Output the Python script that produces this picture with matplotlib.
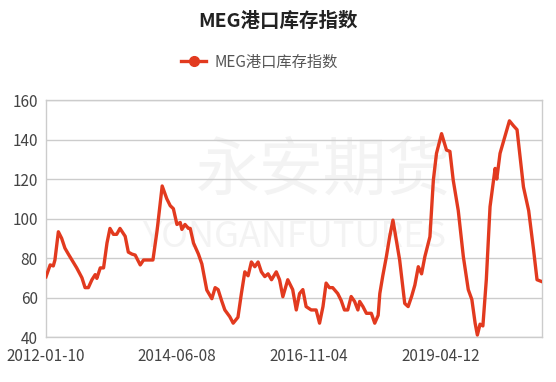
import pandas as pd
import matplotlib
matplotlib.use("Agg")
import matplotlib.pyplot as plt

plt.rcParams['font.family'] = ['Noto Sans CJK SC', 'DejaVu Sans']

# MEG port inventory index
dates = [
    "2012-01-10", "2012-02-07", "2012-02-28", "2012-03-10", "2012-04-02", "2012-04-24",
    "2012-05-16", "2012-06-08", "2012-08-03", "2012-09-07", "2012-09-28", "2012-10-20",
    "2012-11-13", "2012-12-05", "2012-12-16", "2013-01-08", "2013-01-30", "2013-02-22",
    "2013-03-14", "2013-04-06", "2013-04-28", "2013-05-20", "2013-06-24", "2013-07-15",
    "2013-08-08", "2013-08-30", "2013-10-03", "2013-10-25", "2013-11-17", "2013-12-09",
    "2013-12-27", "2014-01-24", "2014-02-27", "2014-03-30", "2014-04-22", "2014-05-13",
    "2014-06-06", "2014-06-28", "2014-07-09", "2014-07-30", "2014-08-22", "2014-09-03",
    "2014-09-25", "2014-10-28", "2014-11-20", "2014-12-23", "2015-01-26", "2015-02-17",
    "2015-03-09", "2015-04-01", "2015-04-23", "2015-05-26", "2015-06-18", "2015-07-20",
    "2015-08-12", "2015-09-04", "2015-09-26", "2015-10-18", "2015-11-10", "2015-12-02",
    "2015-12-24", "2016-01-16", "2016-02-07", "2016-03-01", "2016-04-02", "2016-04-24",
    "2016-05-16", "2016-06-18", "2016-07-21", "2016-08-14", "2016-09-05", "2016-09-27",
    "2016-10-19", "2016-11-22", "2016-12-25", "2017-01-17", "2017-02-09", "2017-03-02",
    "2017-03-24", "2017-04-15", "2017-05-19", "2017-06-11", "2017-07-03", "2017-07-25",
    "2017-08-17", "2017-09-09", "2017-10-01", "2017-10-13", "2017-11-04", "2017-11-27",
    "2017-12-07", "2017-12-30", "2018-01-22", "2018-02-14", "2018-02-25", "2018-03-17",
    "2018-04-10", "2018-05-02", "2018-05-24", "2018-06-16", "2018-07-08", "2018-08-11",
    "2018-09-03", "2018-09-26", "2018-10-18", "2018-11-10", "2018-12-02", "2018-12-24",
    "2019-01-27", "2019-02-19", "2019-03-12", "2019-04-15", "2019-05-18", "2019-06-10",
    "2019-07-02", "2019-08-05", "2019-09-08", "2019-10-11", "2019-11-04", "2019-11-26",
    "2019-12-11", "2019-12-29", "2020-01-17", "2020-02-09", "2020-03-05", "2020-04-08",
    "2020-04-19", "2020-05-11", "2020-06-03", "2020-06-26", "2020-07-13", "2020-08-09",
    "2020-09-02", "2020-10-15", "2020-11-19", "2020-12-22", "2021-01-14", "2021-02-17",
]
values = [
    70.5, 76.5, 76, 79, 93.3, 90,
    85, 82, 75, 70, 65, 65,
    69, 71.6, 69.7, 75, 75, 87.6,
    95, 92, 92, 95, 91, 83,
    82, 81.5, 76.5, 79, 79, 79,
    79, 94, 116.5, 110, 106.5, 105,
    97, 98, 94.5, 97, 95, 95,
    87.6, 82, 77, 63.8, 59.4, 65,
    64, 58.5, 53.7, 50.3, 47, 50,
    62, 73, 71, 78, 75.6, 78,
    73, 70.6, 72, 69, 73, 69,
    60.4, 69, 64, 53.7, 62, 64,
    55.4, 53.7, 53.7, 47, 55.4, 67.3,
    65, 65, 62, 58.5, 53.7, 53.7,
    60.5, 58, 53.7, 58, 55.4, 52,
    52, 52, 47, 51, 62, 71,
    80.7, 90.8, 99.2, 89, 79, 57,
    55.4, 60.5, 66.3, 75.6, 72, 80.7,
    90.8, 119.5, 133, 143, 134.7, 134,
    119.5, 104, 80.7, 64, 59, 47,
    41, 46.5, 45.6, 69, 106, 125.4,
    120, 133, 139, 145, 149.5, 147,
    145, 116, 104, 84, 69, 68,
]
tick_labels = ["2012-01-10", "2014-06-08", "2016-11-04", "2019-04-12"]
series_name = "MEG港口库存指数"

x = pd.to_datetime(dates)
ticks = pd.to_datetime(tick_labels)

fig = plt.figure(figsize=(5.56, 3.82), dpi=100)
ax = fig.add_axes([0.0827, 0.1178, 0.8923, 0.6202])

# faint watermark
ax.text(0.56, 0.70, "永安期货", transform=ax.transAxes, fontsize=46, color="#f3f3f3",
        ha="center", va="center", zorder=0)
ax.text(0.50, 0.42, "YONGANFUTURES", transform=ax.transAxes, fontsize=26, color="#f3f3f3",
        ha="center", va="center", zorder=0)

red = "#e23a1f"
ax.plot(x, values, color=red, lw=2.4, label=series_name, zorder=3)

ax.set_ylim(40, 160)
ax.set_yticks([40, 60, 80, 100, 120, 140, 160])
ax.set_xlim(x[0], x[-1])
ax.set_xticks(ticks)
ax.set_xticklabels(tick_labels)
ax.tick_params(length=0, labelsize=11, labelcolor="#444444")
ax.tick_params(axis="x", pad=8)
ax.tick_params(axis="y", pad=6)

ax.grid(axis="y", color="#cccccc", lw=1)
for s in ax.spines.values():
    s.set_color("#cccccc")
    s.set_linewidth(1)
ax.set_axisbelow(True)

fig.text(0.5, 0.943, series_name, ha="center", va="center", fontsize=14,
         fontweight="bold", color="#222222")
ax.legend(handles=[plt.Line2D([], [], color=red, lw=2.4, marker="o", markersize=7)],
          labels=[series_name], loc="center", bbox_to_anchor=(0.431, 1.16),
          frameon=False, fontsize=11, labelcolor="#555555", handlelength=1.6,
          handletextpad=0.6)

fig.savefig("out.png", dpi=100)
